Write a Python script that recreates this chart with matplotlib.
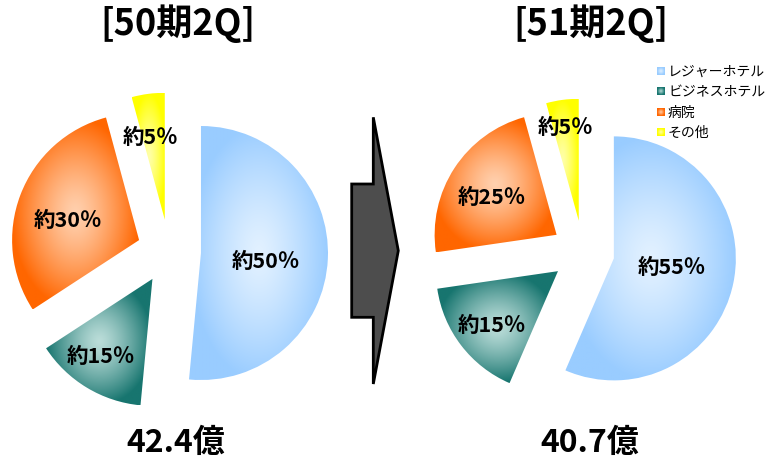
import numpy as np
import matplotlib
matplotlib.use("Agg")
import matplotlib.pyplot as plt
from matplotlib.colors import to_rgb
from matplotlib.patches import Polygon, Rectangle

plt.rcParams['font.family'] = ['Noto Sans CJK JP', 'DejaVu Sans']

# sales mix by customer segment (%), first slice starts at 12 o'clock, clockwise
categories = ["レジャーホテル", "ビジネスホテル", "病院", "その他"]
mix_50 = [51.5, 14.3, 30.0, 4.2]
mix_51 = [56.5, 16.2, 23.0, 4.3]
titles = ["[50期2Q]", "[51期2Q]"]
totals = ["42.4億", "40.7億"]

edge_colors = ["#99CCFF", "#17756F", "#FF6600", "#FFFF00"]
center_colors = ["#E2F1FF", "#BBDDD9", "#FFD0AE", "#FFFFA8"]

H = 460  # canvas height in px, texts below are placed in top-down px


def shade(ax, patch, inner, outer, n=160, gamma=1.3):
    """Fill a patch with a gradient that is light in the middle of its bbox."""
    verts = patch.get_patch_transform().transform(patch.get_path().vertices)
    x0, y0 = verts.min(axis=0)
    x1, y1 = verts.max(axis=0)
    g = np.linspace(-1, 1, n)
    X, Y = np.meshgrid(g, g)
    t = np.clip(np.hypot(X, Y), 0, 1) ** gamma
    c_in = np.array(to_rgb(inner))
    c_out = np.array(to_rgb(outer))
    img = c_in + (c_out - c_in) * t[..., None]
    im = ax.imshow(img, extent=(x0, x1, y0, y1), origin="lower",
                   interpolation="bilinear", zorder=patch.get_zorder())
    im.set_clip_path(patch)
    patch.set_facecolor("none")


def approx_label(v):
    return f"約{int(round(v / 5.0)) * 5}％"


fig = plt.figure(figsize=(7.67, 4.60), dpi=100)
ax = fig.add_axes([0, 0, 1, 1])

pies = [
    dict(values=mix_50, center=(169, H - 252.5), radius=127, explode=32,
         label_xy=[(266, 262), (101, 357), (68, 221), (150, 137)]),
    dict(values=mix_51, center=(583, H - 253), radius=122, explode=31.5,
         label_xy=[(672, 268), (492, 325), (492, 197), (565, 128)]),
]

for p in pies:
    wedges, _ = ax.pie(p["values"], startangle=90, counterclock=False,
                       center=p["center"], radius=p["radius"],
                       explode=[p["explode"]] * len(p["values"]),
                       colors=edge_colors,
                       wedgeprops=dict(linewidth=0))
    for w, ci, co in zip(wedges, center_colors, edge_colors):
        shade(ax, w, ci, co)
    for v, (lx, ly) in zip(p["values"], p["label_xy"]):
        ax.text(lx, H - ly, approx_label(v), ha="center", va="center",
                fontsize=15.5, fontweight="bold", color="black", zorder=5)

# titles and totals
for title, cx in zip(titles, [178, 591]):
    ax.text(cx, H - 24, title, ha="center", va="center",
            fontsize=26, fontweight="bold", zorder=5)
for total, cx in zip(totals, [176, 590]):
    ax.text(cx, H - 443, total, ha="center", va="center",
            fontsize=23, fontweight="bold", zorder=5)

# arrow between the two periods
arrow = [(351.7, 185), (373.3, 185), (373.3, 118.3), (398.3, 251.7),
         (373.3, 385), (373.3, 318.3), (351.7, 318.3)]
ax.add_patch(Polygon([(x, H - y) for x, y in arrow], closed=True,
                     facecolor="#4D4D4D", edgecolor="black", linewidth=2,
                     joinstyle="miter", zorder=3))

# legend
for i, (name, ci, co) in enumerate(zip(categories, center_colors, edge_colors)):
    yc = 71.5 + i * 20.6
    sq = Rectangle((657, H - yc - 4), 8, 8, linewidth=0, zorder=4)
    ax.add_patch(sq)
    shade(ax, sq, ci, co, n=20, gamma=1.0)
    ax.text(668, H - yc, name, ha="left", va="center", fontsize=10, zorder=5)

ax.set_xlim(0, 767)
ax.set_ylim(0, H)
ax.set_aspect("equal")
ax.axis("off")

fig.savefig("out.png", dpi=100)
